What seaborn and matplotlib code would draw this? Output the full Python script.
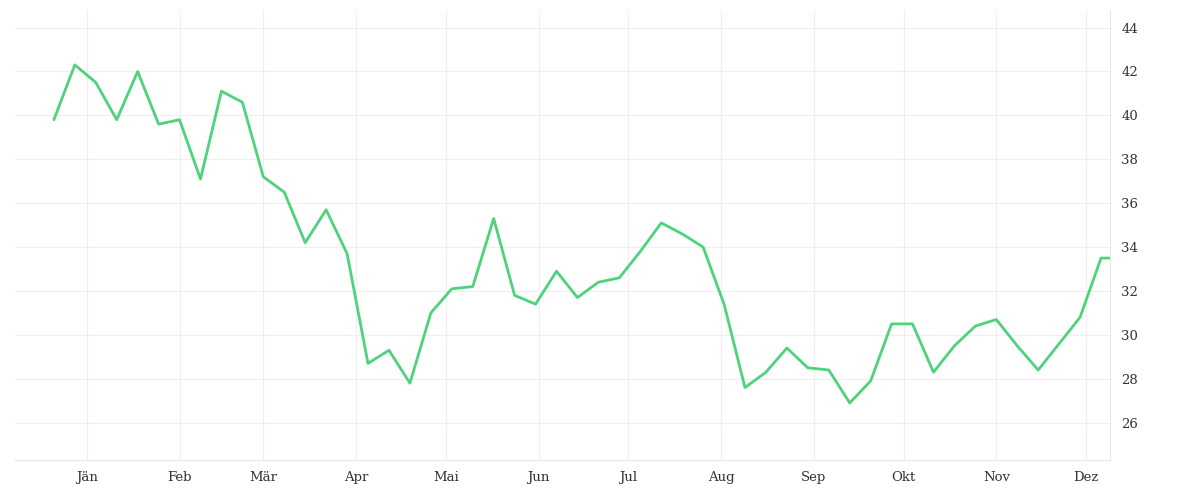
import matplotlib
matplotlib.use("Agg")
import matplotlib.pyplot as plt
import seaborn as sns
import pandas as pd

values = [39.8, 42.3, 41.5, 39.8, 42.0, 39.6, 39.8, 37.1, 41.1, 40.6, 37.2, 36.5, 34.2, 35.7,
          33.7, 28.7, 29.3, 27.8, 31.0, 32.1, 32.2, 35.3, 31.8, 31.4, 32.9, 31.7, 32.4, 32.6,
          33.8, 35.1, 34.6, 34.0, 31.4, 27.6, 28.3, 29.4, 28.5, 28.4, 26.9, 27.9, 30.5, 30.5,
          28.3, 29.5, 30.4, 30.7, 29.5, 28.4, 29.6, 30.8, 33.5]
last_value = 33.5
dates = list(pd.date_range("2014-12-21", periods=len(values), freq="7D")) + [pd.Timestamp("2015-12-09")]
vals = values + [last_value]
month_labels = ["Jän", "Feb", "Mär", "Apr", "Mai", "Jun", "Jul", "Aug", "Sep", "Okt", "Nov", "Dez"]
yticks = [26, 28, 30, 32, 34, 36, 38, 40, 42, 44]

df = pd.DataFrame({"date": dates, "value": vals})

sns.set_style("white")
plt.rcParams['font.family'] = ['DejaVu Serif']
fig = plt.figure(figsize=(12, 5), dpi=100)
ax = fig.add_axes([0.0125, 0.08, 0.9125, 0.9])
sns.lineplot(data=df, x="date", y="value", ax=ax, color="#4fd27c", linewidth=2)

ax.set_xlim(pd.Timestamp("2014-12-08"), pd.Timestamp("2015-12-09"))
ax.set_ylim(24.3, 44.8)
ticks = pd.date_range("2015-01-01", periods=12, freq="MS")
ax.set_xticks(ticks)
ax.set_xticklabels(month_labels)
ax.set_yticks(yticks)
ax.yaxis.tick_right()
ax.grid(True, color="#efefef", linewidth=0.8)
for s in ax.spines.values():
    s.set_visible(False)
ax.spines["bottom"].set_visible(True)
ax.spines["bottom"].set_color("#e6e6e6")
ax.spines["right"].set_visible(True)
ax.spines["right"].set_color("#e6e6e6")
ax.tick_params(axis="both", length=0, labelsize=9.5, colors="#333333", pad=8)
ax.set_xlabel("")
ax.set_ylabel("")
fig.savefig("out.png")
